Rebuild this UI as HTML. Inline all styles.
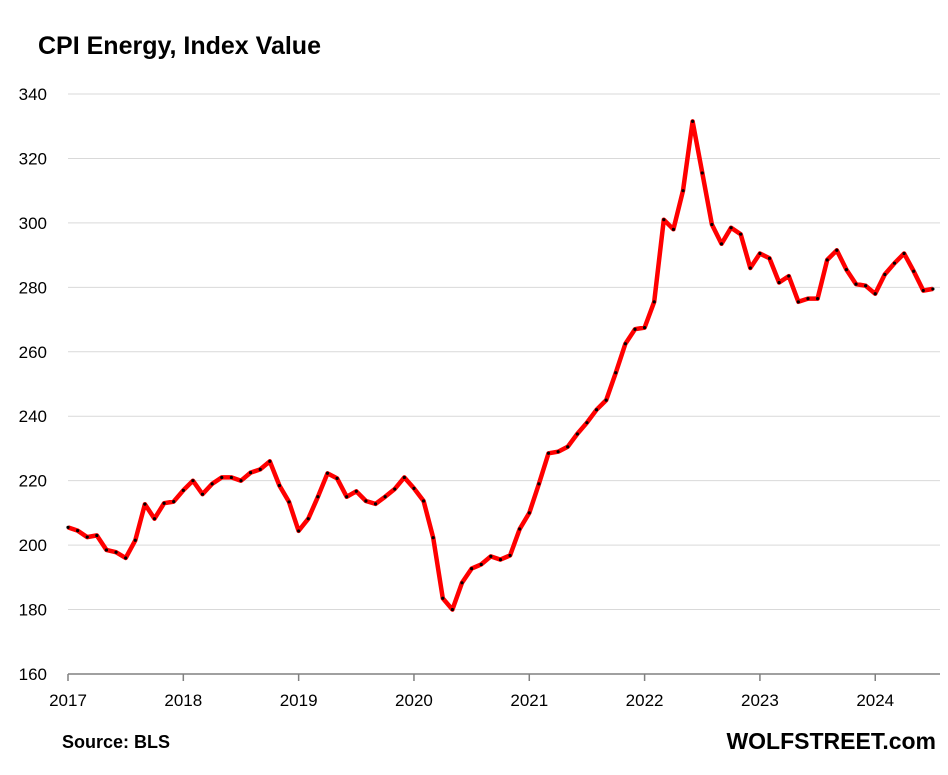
<!DOCTYPE html>
<html><head><meta charset="utf-8"><style>
body{margin:0;background:#fff;}
svg{display:block;font-family:"Liberation Sans",Arial,sans-serif;}
</style></head><body>
<svg id="s" width="948" height="775" xmlns="http://www.w3.org/2000/svg">
<rect width="948" height="775" fill="#fff"/>
<text x="38" y="54" font-size="25" font-weight="bold" fill="#000">CPI Energy, Index Value</text>
<g id="grid"></g>
<text x="62" y="748" font-size="18" font-weight="bold">Source: BLS</text>
<text x="936" y="749" font-size="23" font-weight="bold" text-anchor="end">WOLFSTREET.com</text>
</svg>
<script>
const s=document.getElementById('grid');const NS="http://www.w3.org/2000/svg";
function el(t,a,txt){const e=document.createElementNS(NS,t);for(const k in a)e.setAttribute(k,a[k]);if(txt!==undefined)e.textContent=txt;s.appendChild(e);return e;}
const Y=v=>94+(340-v)*3.2222;
for(let v=160;v<=340;v+=20){if(v>160)el('line',{x1:68,x2:940,y1:Y(v),y2:Y(v),stroke:'#d9d9d9','stroke-width':1});
el('text',{x:47,y:Y(v)+6,'font-size':17,'text-anchor':'end',fill:'#000'},v);}
el('line',{x1:68,x2:940,y1:674,y2:674,stroke:'#808080','stroke-width':1.5});
const X=m=>68+m*9.61;
for(let y=0;y<8;y++){const x=X(y*12);el('line',{x1:x,x2:x,y1:674,y2:681,stroke:'#808080','stroke-width':1.5});
el('text',{x:x,y:706,'font-size':17,'text-anchor':'middle'},2017+y);}
const d=[205.5,204.5,202.5,203,198.5,197.8,196,201.5,212.7,208.2,213,213.5,
217,220,215.8,219,221,221,220,222.5,223.5,226,218.5,213.4,
204.4,208.2,215,222.3,220.7,215,216.7,213.7,212.8,215,217.4,221,
217.6,213.7,202.3,183.5,180,188.3,192.7,194,196.5,195.5,196.8,205,
210,219,228.5,229,230.5,234.5,238,242,245,253.5,262.5,267,
267.5,275.5,301,298,310,331.5,315.5,299.5,293.5,298.5,296.5,286,
290.5,289,281.5,283.5,275.5,276.5,276.5,288.5,291.5,285.5,281,280.5,
278,284,287.5,290.5,285,279,279.5];
const pts=d.map((v,i)=>X(i).toFixed(1)+','+Y(v).toFixed(1)).join(' ');
el('polyline',{points:pts,fill:'none',stroke:'#ff0000','stroke-width':4.5,'stroke-linejoin':'round'});
d.forEach((v,i)=>el('circle',{cx:X(i),cy:Y(v),r:1.6,fill:'#000'}));
</script>
</body></html>
